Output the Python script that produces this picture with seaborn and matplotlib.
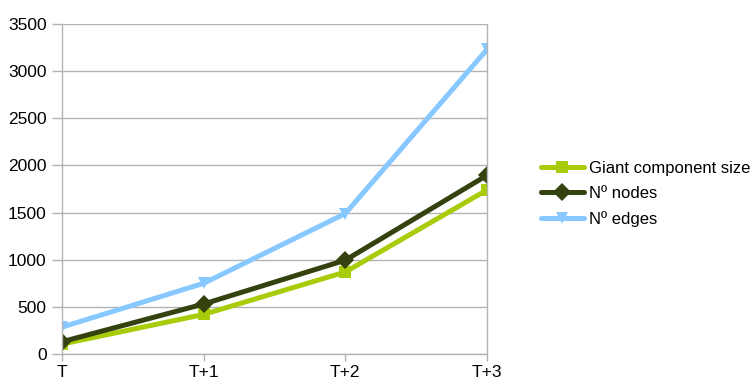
import matplotlib
matplotlib.use("Agg")
import matplotlib.pyplot as plt
import seaborn as sns
import pandas as pd

periods = ["T", "T+1", "T+2", "T+3"]
giant_component = [105, 420, 870, 1740]
n_nodes = [130, 530, 995, 1895]
n_edges = [285, 750, 1490, 3230]

series_names = ["Giant component size", "Nº nodes", "Nº edges"]
series_values = [giant_component, n_nodes, n_edges]

rows = []
for name, vals in zip(series_names, series_values):
    for i, v in enumerate(vals):
        rows.append({"period": i, "value": v, "series": name})
df = pd.DataFrame(rows)

sns.set_theme(style="white")
plt.rcParams["font.family"] = ["Liberation Sans", "DejaVu Sans"]

palette = {"Giant component size": "#a8cc0a",
           "Nº nodes": "#34420f",
           "Nº edges": "#86c8ff"}
markers = {"Giant component size": "s", "Nº nodes": "D", "Nº edges": "v"}

fig = plt.figure(figsize=(7.54, 3.83), dpi=100)
ax = fig.add_axes([62 / 754, 1 - 354 / 383, (487 - 62) / 754, (354 - 24) / 383])

sns.lineplot(data=df, x="period", y="value", hue="series", style="series",
             palette=palette, markers=markers, dashes=False, sort=False,
             linewidth=3.6, markersize=9, markeredgewidth=0, ax=ax,
             hue_order=series_names, style_order=series_names)

ax.set_xlim(0, len(periods) - 1)
ax.set_ylim(0, 3500)
ax.set_xticks(range(len(periods)))
ax.set_xticklabels(periods)
ax.set_yticks(range(0, 3501, 500))
ax.set_xlabel("")
ax.set_ylabel("")

ax.grid(axis="y", color="#b3b3b3", linewidth=1)
ax.grid(axis="x", visible=False)
ax.set_axisbelow(True)
ax.spines["top"].set_visible(False)
for side in ["left", "bottom", "right"]:
    ax.spines[side].set_color("#b3b3b3")
    ax.spines[side].set_linewidth(1)

ax.tick_params(axis="y", which="major", length=7, width=1, color="#b3b3b3",
               labelsize=12.5, labelcolor="#000000", pad=4, left=True)
ax.tick_params(axis="x", which="major", length=5, width=1, color="#b3b3b3",
               labelsize=12.5, labelcolor="#000000", pad=3, bottom=True)

handles, labels = ax.get_legend_handles_labels()
ax.legend_.remove()
fig.legend(handles, labels, loc="center left",
           bbox_to_anchor=(534 / 754, 1 - 194 / 383), frameon=False,
           fontsize=12, handlelength=2.6, handletextpad=0.3, labelspacing=0.6,
           borderaxespad=0, labelcolor="#000000")

fig.savefig("out.png", dpi=100)
